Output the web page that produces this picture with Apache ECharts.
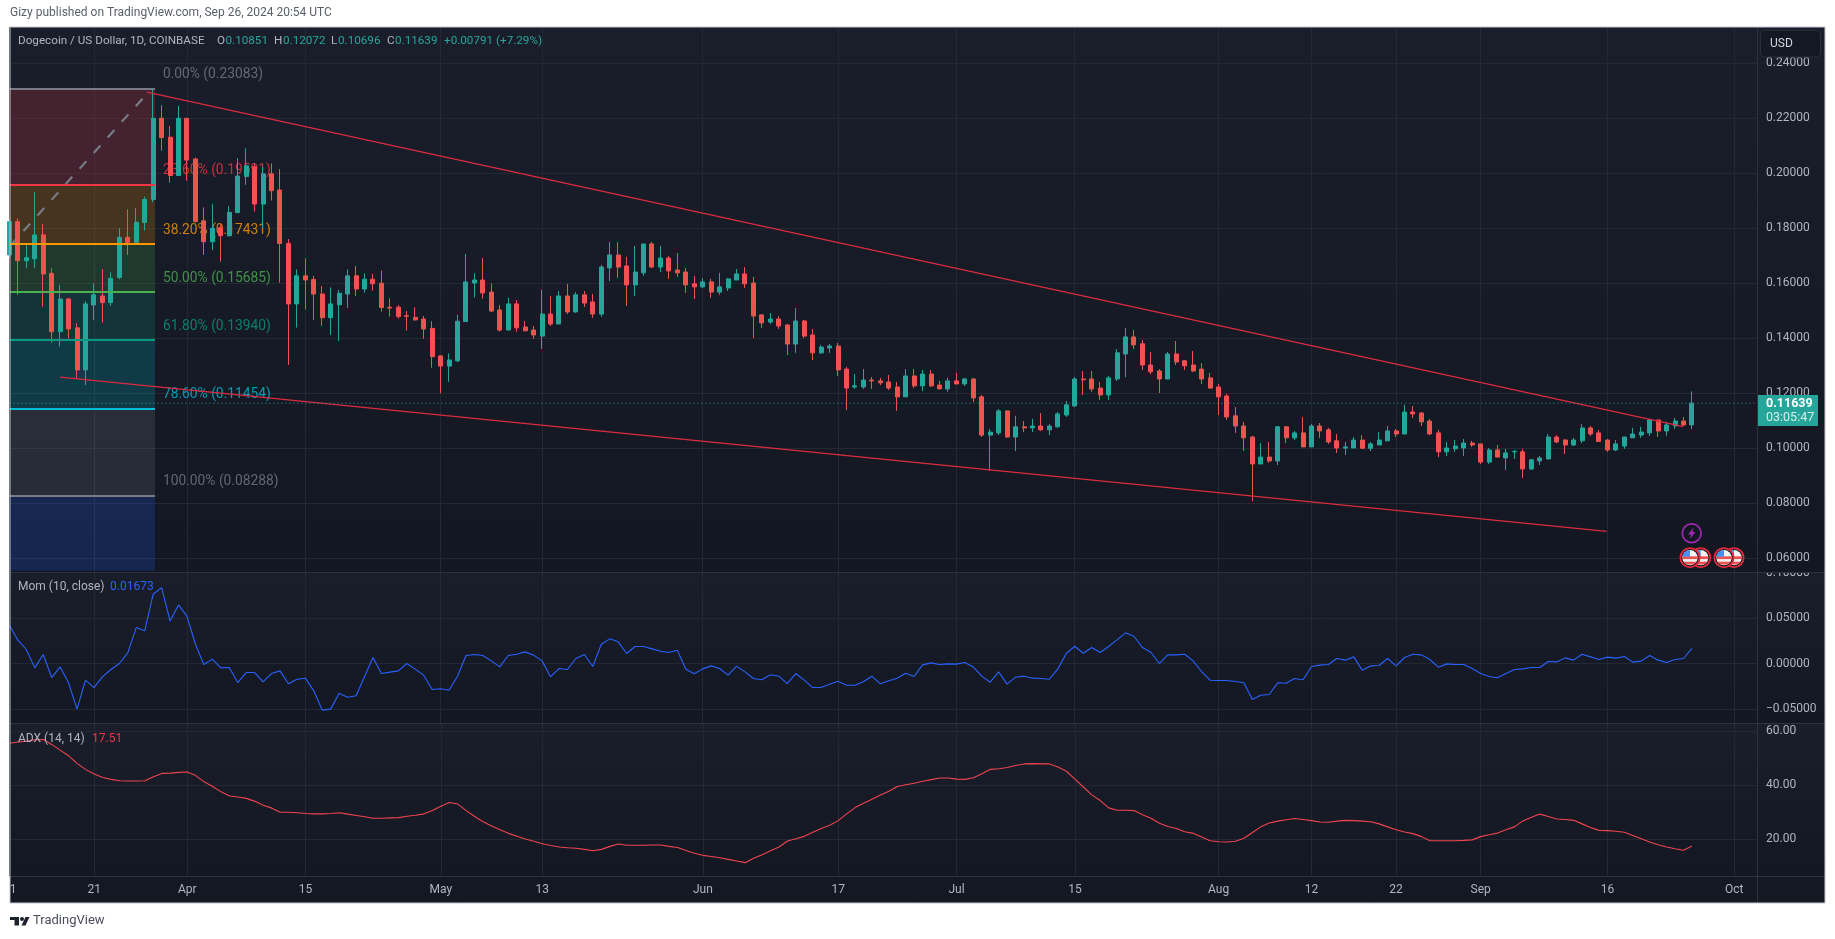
<!DOCTYPE html>
<html><head><meta charset="utf-8"><title>Dogecoin / US Dollar</title>
<style>html,body{margin:0;padding:0;background:#fff}#c{width:1835px;height:939px}</style>
<script src="https://cdn.jsdelivr.net/npm/echarts@6/dist/echarts.min.js"></script>
</head><body><div id="c"></div><script>
// Day offsets are counted from 1 Apr 2024. First candle = 11 Mar 2024 (offset -21).
const firstDay = -21;
// [open, close, low, high]
const candles = [
[.1703,.1824,.1690,.1835],[.1824,.1682,.1558,.1836],[.1682,.1693,.1654,.1745],[.1689,.1776,.1655,.1931],[.1776,.1634,.1515,.1816],
[.1636,.1424,.1384,.1655],[.1424,.1543,.1370,.1594],[.1543,.1434,.1400,.1546],[.1438,.1285,.1254,.1455],[.1285,.1525,.1230,.1535],
[.1521,.1558,.1467,.1600],[.1554,.1530,.1457,.1651],[.1530,.1618,.1518,.1640],[.1621,.1767,.1615,.1800],[.1767,.1749,.1703,.1869],
[.1749,.1822,.1745,.1873],[.1821,.1905,.1792,.1915],[.1905,.2200,.1895,.2308],[.2200,.2130,.2082,.2248],[.2131,.1992,.1966,.2172],
[.1992,.2200,.1992,.2245],
// Apr
[.2200,.2048,.1973,.2200],[.2052,.1824,.1821,.2057],[.1827,.1751,.1703,.1876],[.1751,.1800,.1721,.1888],[.1802,.1773,.1679,.1815],
[.1773,.1858,.1770,.1881],[.1857,.1990,.1857,.2055],[.1988,.2027,.1958,.2091],[.2024,.1888,.1861,.2036],[.1888,.1998,.1800,.2024],
[.1998,.1937,.1901,.2036],[.1939,.1745,.1602,.2015],[.1745,.1525,.1303,.1761],[.1525,.1627,.1439,.1651],[.1627,.1612,.1505,.1691],
[.1614,.1561,.1467,.1627],[.1561,.1475,.1445,.1590],[.1475,.1525,.1412,.1585],[.1522,.1564,.1390,.1576],[.1561,.1627,.1510,.1651],
[.1627,.1579,.1554,.1663],[.1579,.1615,.1566,.1636],[.1615,.1598,.1573,.1634],[.1600,.1512,.1497,.1646],[.1513,.1510,.1479,.1545],
[.1513,.1479,.1472,.1521],[.1482,.1480,.1428,.1499],[.1476,.1467,.1464,.1513],[.1470,.1434,.1398,.1481],[.1436,.1333,.1293,.1462],
// May
[.1336,.1299,.1200,.1338],[.1299,.1321,.1242,.1345],[.1318,.1462,.1314,.1485],[.1461,.1605,.1461,.1707],[.1601,.1612,.1548,.1636],
[.1612,.1565,.1544,.1692],[.1568,.1499,.1496,.1600],[.1503,.1430,.1424,.1521],[.1430,.1525,.1430,.1547],[.1525,.1438,.1424,.1539],
[.1441,.1427,.1427,.1463],[.1430,.1412,.1398,.1445],[.1408,.1488,.1361,.1576],[.1488,.1452,.1445,.1554],[.1452,.1554,.1452,.1572],
[.1554,.1496,.1488,.1598],[.1496,.1558,.1492,.1568],[.1558,.1528,.1514,.1572],[.1532,.1488,.1474,.1561],[.1488,.1659,.1478,.1667],
[.1656,.1703,.1608,.1750],[.1703,.1659,.1619,.1750],[.1663,.1594,.1518,.1696],[.1594,.1641,.1554,.1736],[.1638,.1743,.1627,.1743],
[.1743,.1659,.1656,.1750],[.1659,.1692,.1641,.1736],[.1692,.1645,.1616,.1699],[.1648,.1638,.1623,.1710],[.1641,.1594,.1565,.1656],
[.1598,.1587,.1543,.1627],
// Jun
[.1587,.1605,.1583,.1619],[.1605,.1568,.1547,.1616],[.1568,.1587,.1558,.1638],[.1583,.1616,.1572,.1619],[.1612,.1634,.1612,.1652],
[.1634,.1598,.1583,.1659],[.1601,.1481,.1401,.1623],[.1485,.1456,.1438,.1488],[.1459,.1470,.1452,.1492],[.1470,.1445,.1434,.1481],
[.1448,.1379,.1339,.1452],[.1379,.1463,.1347,.1510],[.1463,.1408,.1401,.1467],[.1412,.1347,.1321,.1434],[.1347,.1368,.1343,.1376],
[.1365,.1372,.1347,.1379],[.1372,.1285,.1263,.1383],[.1288,.1219,.1139,.1296],[.1223,.1227,.1216,.1270],[.1223,.1248,.1216,.1288],
[.1248,.1245,.1216,.1259],[.1245,.1238,.1230,.1256],[.1241,.1219,.1212,.1267],[.1223,.1187,.1136,.1241],[.1187,.1263,.1187,.1288],
[.1263,.1227,.1219,.1288],[.1227,.1270,.1208,.1285],[.1270,.1227,.1223,.1285],[.1230,.1216,.1216,.1245],[.1216,.1245,.1205,.1256],
// Jul
[.1245,.1234,.1234,.1274],[.1234,.1252,.1227,.1256],[.1252,.1183,.1168,.1256],[.1187,.1048,.1041,.1194],[.1048,.1059,.0918,.1070],
[.1056,.1136,.1048,.1143],[.1136,.1041,.1038,.1139],[.1041,.1078,.0990,.1118],[.1078,.1074,.1059,.1099],[.1074,.1081,.1059,.1107],
[.1081,.1067,.1063,.1128],[.1067,.1081,.1048,.1088],[.1078,.1125,.1074,.1132],[.1121,.1158,.1114,.1172],[.1154,.1252,.1150,.1259],
[.1252,.1249,.1194,.1281],[.1252,.1216,.1205,.1281],[.1219,.1194,.1176,.1241],[.1194,.1256,.1176,.1263],[.1252,.1347,.1245,.1361],
[.1343,.1405,.1259,.1438],[.1405,.1376,.1361,.1430],[.1380,.1303,.1285,.1394],[.1303,.1278,.1270,.1350],[.1281,.1252,.1201,.1288],
[.1252,.1343,.1252,.1350],[.1343,.1314,.1303,.1390],[.1318,.1300,.1285,.1321],[.1303,.1281,.1278,.1354],[.1288,.1252,.1234,.1310],
[.1256,.1219,.1216,.1274],
// Aug
[.1223,.1187,.1121,.1234],[.1190,.1114,.1103,.1198],[.1118,.1081,.1056,.1150],[.1081,.1038,.0990,.1096],[.1041,.0943,.0808,.1045],
[.0943,.0968,.0943,.1019],[.0968,.0954,.0947,.1023],[.0954,.1078,.0939,.1081],[.1078,.1038,.1019,.1081],[.1038,.1056,.1030,.1063],
[.1056,.1005,.1005,.1114],[.1005,.1081,.1005,.1088],[.1081,.1063,.1038,.1092],[.1067,.1023,.1016,.1074],[.1027,.1001,.0983,.1052],
[.1001,.1005,.0976,.1023],[.1001,.1030,.1001,.1041],[.1030,.1000,.1000,.1048],[.1000,.1016,.0990,.1023],[.1012,.1030,.1012,.1059],
[.1027,.1063,.1027,.1081],[.1063,.1052,.1041,.1070],[.1052,.1132,.1052,.1158],[.1132,.1125,.1110,.1154],[.1128,.1096,.1081,.1132],
[.1099,.1052,.1048,.1107],[.1056,.0987,.0968,.1067],[.0987,.1001,.0972,.1023],[.0998,.1008,.0987,.1030],[.1001,.1019,.0972,.1034],
[.1019,.1012,.1005,.1027],
// Sep
[.1016,.0950,.0943,.1016],[.0950,.0994,.0943,.1001],[.0994,.0968,.0968,.1012],[.0965,.0983,.0921,.0998],[.0987,.0988,.0961,.0994],
[.0987,.0925,.0892,.0998],[.0925,.0958,.0921,.0961],[.0954,.0965,.0939,.0972],[.0961,.1041,.0961,.1052],[.1041,.1023,.1019,.1048],
[.1030,.1012,.0979,.1034],[.1012,.1030,.1008,.1038],[.1027,.1074,.1019,.1088],[.1074,.1052,.1045,.1081],[.1056,.1025,.1023,.1067],
[.1030,.0994,.0987,.1034],[.0994,.1016,.0990,.1030],[.1008,.1041,.0998,.1041],[.1038,.1052,.1038,.1074],[.1048,.1059,.1038,.1078],
[.1056,.1103,.1045,.1107],[.1103,.1063,.1041,.1103],[.1063,.1085,.1045,.1096],[.1081,.1099,.1070,.1110],[.1099,.1085,.1081,.1114],
[.10851,.11639,.10696,.12072]
];
const momValues = [
.0421,.0256,.0154,-.0048,.0099,-.0154,-.0037,-.0212,-.0501,-.0183,
-.0264,-.0146,-.0066,0,.0117,.0395,.0359,.0761,.0834,.0468,
.0644,.052,.0212,-.0011,.0048,-.0048,-.0044,-.0209,-.0099,-.0099,
-.0201,-.011,-.0081,-.0223,-.0172,-.0161,-.03,-.0512,-.0501,-.0326,
-.037,-.0355,-.0146,.0066,-.011,-.0095,-.0081,0,-.0062,-.0128,
-.0285,-.0278,-.0293,-.0139,.0088,.0099,.0088,.0029,-.0037,.0088,
.0102,.0128,.0092,.0029,-.0146,-.0055,-.0066,.0055,.0099,-.0033,
.0212,.0271,.0238,
.011,.0187,.0187,.0161,.0135,.0121,.0146,-.0062,-.0113,-.0059,
-.0026,-.0055,-.0128,-.0029,-.0092,-.0165,-.0179,-.0124,-.0139,-.022,
-.011,-.0183,-.0264,-.0264,-.0227,-.0194,-.0238,-.0238,-.0201,-.0139,
-.0223,-.019,-.0161,-.0106,-.0143,-.0015,.0007,-.0011,-.0004,-.0007,
.0011,-.0037,-.0139,-.0205,-.0092,-.0227,-.015,-.0139,-.0161,-.0165,
-.0172,-.0059,.011,.019,.0113,.0176,.0121,.0187,.026,.0337,
.03,.0176,.0124,0,.0095,.0095,.0102,.0029,-.0088,-.0183,
-.0187,
-.0187,-.0198,-.0212,-.0395,-.0348,-.034,-.0212,-.0216,-.0165,-.0179,
-.0033,-.0018,-.0011,.0055,.0037,.0073,-.0073,-.0026,-.0022,.0055,
-.0026,.0066,.0102,.0095,.0044,-.004,-.0004,-.0011,-.0011,-.0055,
-.011,-.0143,-.0157,-.011,-.0066,-.0059,-.0044,-.0044,.0022,.0018,
.0062,.0037,.0102,.0073,.0044,.007,.0059,.0077,.0015,.0026,
.0088,.0037,.0011,.0044,.0055,.01673
];
const adxValues = [
55.4,55.9,56.2,56.7,56.8,54.9,52.8,50.7,47.9,45.7,
44.1,42.8,42.1,41.6,41.5,41.5,41.6,43.1,44.3,44.4,
44.7,44.8,43.5,41.2,39.5,37.5,36,35.6,35.1,34,
32.6,31.5,30,30,29.8,29.5,29.4,29.4,29.5,29.8,
29.3,28.8,28.3,27.8,27.8,27.9,28,28.5,28.9,29.4,
30.6,32.2,33.6,33,30.6,28.4,26.5,24.9,23.5,22.2,
21.1,20.1,19.3,18.4,17.7,17.2,16.9,16.7,16.3,15.8,
16.3,17.4,18.3,
17.8,17.8,17.8,17.9,17.9,17.4,17,15.9,14.9,14.1,
13.7,13.2,12.6,12,11.4,13,14.3,15.8,17.2,19.4,
20.2,21.1,22.6,24,25.2,26.9,29.4,31.7,33.3,34.8,
36.3,37.7,39.5,40.1,40.7,41.4,42,42.6,42.6,42.2,
42.1,42.7,44.2,45.8,46,46.5,47.2,47.8,47.9,47.8,
47.8,46.7,45.1,42.2,39.3,36.4,34.3,31.6,30.7,30.7,
30.6,29.1,27.8,25.9,24.7,24,22.8,22.2,20.9,19.5,
19.1,
19,19.3,20.4,22.5,24.6,26,26.7,27.2,27.7,27.3,
26.9,26.4,26.3,26.7,27,26.9,26.7,26.5,25.7,24.6,
23.5,22.7,22.1,21,19.5,19.5,19.5,19.5,19.6,19.8,
21,21.7,22.3,23.5,24.6,26.8,28.1,29.3,28.4,27.5,
27.3,27,25.7,24.4,23.3,23.2,23,22.6,21.4,20.2,
19,18,17.2,16.5,16,17.51
];
const tickDays   = [-21,-11,0,14,30,42,61,77,91,105,122,133,143,153,168,183];
const tickLabels = ['11','21','Apr','15','May','13','Jun','17','Jul','15','Aug','12','22','Sep','16','Oct'];
const priceTicks = [.24,.22,.20,.18,.16,.14,.12,.10,.08,.06];
const momTicks   = [.10,.05,0,-.05];
const adxTicks   = [60,40,20];
const lastClose  = .11639;
const fibLevels  = [.23083,.19591,.17431,.15685,.13940,.11454,.08288];
const fibPct     = ['0.00%','23.60%','38.20%','50.00%','61.80%','78.60%','100.00%'];
const fibColors  = ['#787b86','#f23645','#ff9800','#4caf50','#089981','#00bcd4','#787b86'];
const fibFloor   = .0555;
const fibStart = -21, fibEnd = -3.78, fibLabelDay = -2.84;
const upperTrend = [[-4.73,.2295],[176.97,.1079]];
const lowerTrend = [[-15,.1259],[167.9,.0698]];
const fibDiagonal = [[-21,.1733],[-4.5,.2297]];

const UP='#26a69a', DOWN='#ef5350', GRIDC='#242833', TXT='#b2b5be', FONT='Roboto,sans-serif';
const X0=9.4, XR=1757.5, XMAX=185.75;
const days = candles.map((_,i)=>firstDay+i);
const gradient = (a,b)=>({type:'linear',x:0,y:0,x2:0,y2:1,colorStops:[{offset:0,color:a},{offset:1,color:b}]});
const xa = (gi,show)=>({type:'value',gridIndex:gi,min:firstDay,max:XMAX,
  axisLine:{show:false},axisTick:{show:false,customValues:tickDays},
  splitLine:{show:true,lineStyle:{color:GRIDC,width:1}},
  axisLabel:{show,customValues:tickDays,margin:7,color:TXT,fontFamily:FONT,fontSize:12,hideOverlap:false,
    formatter:v=>tickLabels[tickDays.indexOf(v)]||''}});
const ya = (gi,min,max,ticks,fmt)=>({type:'value',gridIndex:gi,position:'right',min,max,scale:true,
  axisLine:{show:false},axisTick:{show:false,customValues:ticks},
  splitLine:{show:true,lineStyle:{color:GRIDC,width:1}},
  axisLabel:{customValues:ticks,margin:8.5,color:TXT,fontFamily:FONT,fontSize:12,formatter:fmt}});
const fmt5 = v=>(v<0?'\u2212':'')+Math.abs(v).toFixed(5);

const flagSvg = 'data:image/svg+xml;utf8,'+encodeURIComponent(
 '<svg xmlns="http://www.w3.org/2000/svg" width="22" height="22"><defs><clipPath id="k"><circle cx="11" cy="11" r="7.6"/></clipPath></defs>'+
 '<circle cx="11" cy="11" r="9.6" fill="#131722" stroke="#e5293d" stroke-width="1.8"/>'+
 '<g clip-path="url(#k)"><rect width="22" height="22" fill="#f4f4f6"/><rect y="9.6" width="22" height="2.8" fill="#ef5350"/><rect y="15" width="22" height="2.8" fill="#ef5350"/>'+
 '<rect width="11" height="10" fill="#4a8df0"/></g></svg>');

const g = [];
const R=(x,y,w,h,style,z,extra)=>g.push(Object.assign({type:'rect',shape:{x,y,width:w,height:h},style,z,silent:true},extra||{}));
const T=(x,y,text,fill,size,z,weight)=>g.push({type:'text',x,y,z:z||110,silent:true,style:{text,fill,font:(weight||'normal')+' '+(size||12)+'px '+FONT,textVerticalAlign:'middle',verticalAlign:'middle',textAlign:'left'}});
const L=(x1,y1,x2,y2,stroke)=>g.push({type:'line',shape:{x1,y1,x2,y2},style:{stroke,lineWidth:1},z:105,silent:true});
// pane backgrounds
R(10,27,1815,546,{fill:gradient('#1a1e2a','#131722')},-10);
R(10,573,1815,151,{fill:gradient('#1a1e2a','#131722')},-10);
R(10,724,1815,153,{fill:gradient('#1a1e2a','#131722')},-10);
R(10,877,1815,26,{fill:'#141823'},-10);
// clip the half of the 0.10000 label that leaves its pane
R(1758,565,66,7.5,{fill:'#131722'},100);
// clip the part of "11" left of the frame
R(0,876,9.5,28,{fill:'#fff'},100);
L(10,572.5,1825,572.5,'#2e323e');L(10,723.5,1825,723.5,'#2e323e');L(10,876.5,1825,876.5,'#2e323e');L(1757.5,27,1757.5,903,'#2e323e');
R(10,27,1815,876,{fill:'none',stroke:'#c3c6ce',lineWidth:1},106);
// titles
T(10,13,'Gizy published on TradingView.com, Sep 26, 2024 20:54 UTC','#5a5e68',12);
T(18,41.5,'Dogecoin / US Dollar, 1D, COINBASE',TXT,11.7);
[[217,'O'],[274,'H'],[331,'L'],[387,'C']].forEach(a=>T(a[0],41.5,a[1],TXT,11.7));
[[225.5,'0.10851'],[283,'0.12072'],[338,'0.10696'],[395,'0.11639'],[444,'+0.00791 (+7.29%)']].forEach(a=>T(a[0],41.5,a[1],UP,11.7));
T(18,586.5,'Mom (10, close)',TXT,12);T(110,586.5,'0.01673','#2962ff',12);
T(18,739,'ADX (14, 14)',TXT,12);T(92,739,'17.51','#f23645',12);
// USD button
R(1760.5,30.5,60,26.5,{fill:'#141823',stroke:'#2a2e39',lineWidth:1},108,{shape:{x:1760.5,y:30.5,width:60,height:26.5,r:4}});
T(1770,44,'USD','#d1d4dc',12);
// last price tag
R(1758,395,60,31,{fill:UP},108);
T(1766,403.5,'0.11639','#ffffff',12.5,110,'bold');
T(1766,417.5,'03:05:47','#d4eeeb',12.5);
// event markers
g.push({type:'circle',shape:{cx:1691.7,cy:533.3,r:9.4},style:{fill:'#131722',stroke:'#9c27b0',lineWidth:1.8},z:107,silent:true});
g.push({type:'polygon',shape:{points:[[1693.5,527.5],[1688,534.5],[1691,534.5],[1690,539],[1695.5,532],[1692.5,532]]},style:{fill:'#9c27b0'},z:108,silent:true});
[1700.7,1690,1734,1724].forEach((cx,i)=>g.push({type:'image',style:{image:flagSvg,x:cx-11,y:546.7,width:22,height:22},z:107+i*0.1,silent:true}));
// TradingView footer
R(10,917,9,3,{fill:'#1e222d'},110);R(14.5,917,4.5,8.5,{fill:'#1e222d'},110);
g.push({type:'circle',shape:{cx:22,cy:919,r:2},style:{fill:'#1e222d'},z:110,silent:true});
g.push({type:'polygon',shape:{points:[[25.5,917],[29.5,917],[25.5,925.5],[21.5,925.5]]},style:{fill:'#1e222d'},z:110,silent:true});
T(33,921,'TradingView','#4a4e58',13);

const option = {
  animation:false,backgroundColor:'#ffffff',
  graphic:{elements:g},
  grid:[
    {left:X0,width:XR-X0,top:27,height:545.5,show:false},
    {left:X0,width:XR-X0,top:572.5,height:151,show:false},
    {left:X0,width:XR-X0,top:723.5,height:153,show:false}],
  xAxis:[xa(0,false),xa(1,false),xa(2,true)],
  yAxis:[
    ya(0,.05483,.25320,priceTicks,fmt5),
    ya(1,-.0659,.10,momTicks,fmt5),
    ya(2,6.3,62.7,adxTicks,v=>v.toFixed(2))],
  series:[
    {type:'line',name:'Fib',xAxisIndex:0,yAxisIndex:0,z:1,data:[],silent:true,
     markArea:{silent:true,itemStyle:{opacity:1},data:fibLevels.map((lv,i)=>{
        const lo=i<fibLevels.length-1?fibLevels[i+1]:fibFloor;
        const c=i<fibLevels.length-1?fibColors[i+1]:'#2962ff';
        return [{xAxis:fibStart,yAxis:lv,itemStyle:{color:c,opacity:.2}},{xAxis:fibEnd,yAxis:lo}];
     })},
     markLine:{silent:true,symbol:'none',label:{show:false},animation:false,
       data:fibLevels.map((lv,i)=>[{xAxis:fibStart,yAxis:lv,lineStyle:{color:fibColors[i],width:2,type:'solid'}},{xAxis:fibEnd,yAxis:lv}])}},
    {type:'line',name:'Fib trend',xAxisIndex:0,yAxisIndex:0,z:1,data:fibDiagonal,symbol:'none',silent:true,
     lineStyle:{color:'#787b86',width:2.2,type:[10,11]}},
    {type:'scatter',name:'Fib labels',xAxisIndex:0,yAxisIndex:0,z:1,symbolSize:0,silent:true,
     data:fibLevels.map((lv,i)=>({value:[fibLabelDay,lv],label:{show:true,position:'right',distance:0,offset:[0,-13.5],
        formatter:fibPct[i]+' ('+lv.toFixed(5)+')',color:fibColors[i],fontFamily:FONT,fontSize:13.8}}))},
    {type:'candlestick',name:'DOGEUSD',xAxisIndex:0,yAxisIndex:0,z:2,barWidth:4.5,
     encode:{x:0,y:[1,2,3,4]},
     data:candles.map((c,i)=>[days[i],c[0],c[1],c[2],c[3]]),
     itemStyle:{color:UP,color0:DOWN,borderColor:UP,borderColor0:DOWN,borderWidth:1}},
    {type:'line',name:'Upper trend',xAxisIndex:0,yAxisIndex:0,z:3,data:upperTrend,symbol:'none',silent:true,lineStyle:{color:'#dc2b40',width:1.2}},
    {type:'line',name:'Lower trend',xAxisIndex:0,yAxisIndex:0,z:3,data:lowerTrend,symbol:'none',silent:true,lineStyle:{color:'#dc2b40',width:1.2}},
    {type:'line',name:'Last',xAxisIndex:0,yAxisIndex:0,z:3,data:[[firstDay,lastClose],[XMAX,lastClose]],symbol:'none',silent:true,lineStyle:{color:UP,width:1,type:[1,3]}},
    {type:'line',name:'Mom',xAxisIndex:1,yAxisIndex:1,z:3,data:momValues.map((v,i)=>[firstDay+i,v]),symbol:'none',silent:true,lineStyle:{color:'#2962ff',width:1.1}},
    {type:'line',name:'ADX',xAxisIndex:2,yAxisIndex:2,z:3,data:adxValues.map((v,i)=>[firstDay+i,v]),symbol:'none',silent:true,lineStyle:{color:'#ef4450',width:1.1}}
  ]
};
echarts.init(document.getElementById('c'),null,{renderer:'canvas'}).setOption(option);
</script></body></html>
